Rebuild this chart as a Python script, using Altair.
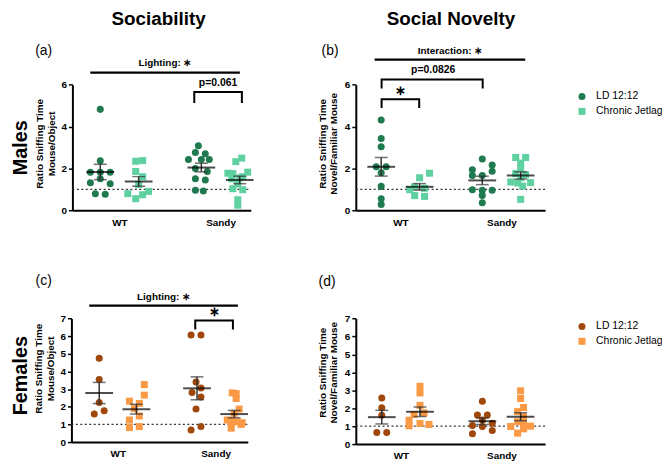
import altair as alt
import pandas as pd

# ------------------------------------------------------------------
# Data
# ------------------------------------------------------------------
genotypes = ["WT", "Sandy"]
conditions = ["LD 12:12", "Chronic Jetlag"]

# (a) Males - Sociability
a_wt_ld = [4.82, 2.37, 1.82, 1.82, 1.82, 1.50, 1.31, 1.26, 0.79, 0.76]
a_wt_cj = [2.34, 2.37, 1.85, 1.60, 1.23, 0.79, 0.74, 0.90, 0.55]
a_sa_ld = [3.08, 2.76, 2.70, 2.42, 2.42, 2.42, 2.00, 1.85, 1.50, 1.45, 0.95, 0.92]
a_sa_cj = [2.49, 2.32, 1.82, 1.77, 1.75, 1.60, 1.55, 1.50, 1.26, 1.03, 0.98, 0.50, 0.24]
a_wt_ld_dx = [0, 0, -10, 10, 0, 0, -10, 10, -5, 5]
a_wt_cj_dx = [-3, 4, -3, 4, 0, -11, 4, 10, -3]
a_sa_ld_dx = [-3, -6, 4, -13, 0, 8, -6, 6, -6, 4, -6, 2]
a_sa_cj_dx = [2, -4, 8, -12, -7, 3, 0, -8, -2, -7, 3, -2, -2]

# (b) Males - Social novelty
b_wt_ld = [4.31, 3.43, 3.03, 2.08, 2.08, 1.79, 1.14, 0.55, 0.27]
b_wt_cj = [1.77, 1.55, 1.12, 1.05, 0.98, 0.70, 0.66]
b_sa_ld = [2.45, 2.16, 1.94, 1.86, 1.66, 1.66, 0.98, 0.95, 0.95, 0.71, 0.36]
b_sa_cj = [2.52, 2.52, 2.25, 2.00, 1.75, 1.70, 1.55, 1.35, 1.32, 1.30, 1.15, 0.52]
b_wt_ld_dx = [0, 0, 0, -5, 5, 0, 0, 0, 0]
b_wt_cj_dx = [10, 0, -5, 5, -10, -5, 5]
b_sa_ld_dx = [0, 10, -10, 10, -10, 0, -10, 0, 10, 0, 0]
b_sa_cj_dx = [-5, 5, 0, 0, -5, 5, 0, -10, 10, -3, 2, 0]

# (c) Females - Sociability
c_wt_ld = [4.75, 3.55, 2.24, 1.78, 1.59]
c_wt_cj = [3.26, 2.66, 2.32, 2.19, 1.90, 1.48, 1.25, 0.88, 0.82]
c_sa_ld = [6.07, 6.07, 3.40, 3.07, 2.81, 2.56, 1.87, 0.88, 0.69]
c_sa_cj = [2.79, 2.75, 2.47, 1.87, 1.63, 1.25, 1.20, 1.15, 1.10, 1.05, 1.00, 0.79]
c_wt_ld_dx = [0, 0, 0, 5, -5]
c_wt_cj_dx = [8, 8, -7, 3, -2, 3, -7, 3, -7]
c_sa_ld_dx = [-6, 4, -1, 4, -5, 4, -1, 4, -6]
c_sa_cj_dx = [-2, 2, 2, 5, 0, -7, -2, 3, 8, -3, 7, -3]

# (d) Females - Social novelty
d_wt_ld = [2.57, 2.03, 1.61, 0.65, 0.65]
d_wt_cj = [3.22, 2.85, 2.16, 1.74, 1.65, 1.33, 1.15, 1.09, 1.02]
d_sa_ld = [2.39, 1.62, 1.62, 1.34, 1.16, 1.03, 0.98, 0.76, 0.57]
d_sa_cj = [2.97, 2.54, 2.04, 1.81, 1.53, 1.25, 1.20, 1.00, 0.98, 0.85, 0.61]
d_wt_ld_dx = [0, 0, 0, -5, 5]
d_wt_cj_dx = [0, 0, 0, 4, -6, -11, 0, 9, -11]
d_sa_ld_dx = [0, -5, 5, 0, 10, -10, 0, 10, -10]
d_sa_cj_dx = [0, 0, 3, -3, 3, -3, 3, 10, -10, 3, -3]

# significance annotations (x in group units, y in data units)
ann_a_lines = [(0.711, 2.191, 6.58)]
ann_a_brackets = [(1.74, 2.211, 5.65, 5.13)]
ann_a_texts = [("Lighting: \u2217", 1.45, 7.03, 10), ("p=0.061", 1.975, 6.08, 10.5)]
ann_b_lines = [(0.745, 2.235, 7.20)]
ann_b_brackets = [(0.814, 1.814, 6.25, 5.82), (0.814, 1.186, 5.30, 4.88)]
ann_b_texts = [("Interaction: \u2217", 1.49, 7.60, 10), ("p=0.0826", 1.324, 6.68, 10.5),
               ("\u2217", 1.0, 5.72, 13)]
ann_c_lines = [(0.708, 2.228, 7.73)]
ann_c_brackets = [(1.792, 2.177, 6.89, 6.38)]
ann_c_texts = [("Lighting: \u2217", 1.468, 8.23, 10), ("\u2217", 1.985, 7.36, 13)]

# ------------------------------------------------------------------
# Layout / style
# ------------------------------------------------------------------
FONT = "Liberation Sans"
PAGE = 8
W, H = 660, 455
SIDE = 0.19
M_COLORS = ["#1f7a4f", "#5fd0a0"]
F_COLORS = ["#a0480c", "#fb9a45"]
ERR = "#333333"

PANELS = {
    "a": dict(ax0=73, ax1=253, cWT=120.5, cS=222.5, y0=210, ytop=83.3, ymax=6, ticks=[0, 2, 4, 6]),
    "b": dict(ax0=359, ax1=550, cWT=404, cS=506, y0=210, ytop=83.3, ymax=6, ticks=[0, 2, 4, 6]),
    "c": dict(ax0=72, ax1=250, cWT=118.8, cS=217.5, y0=444, ytop=319.3, ymax=7, ticks=list(range(8))),
    "d": dict(ax0=359, ax1=550, cWT=404.5, cS=506, y0=446, ytop=319.3, ymax=7, ticks=list(range(8))),
}


def geom(p):
    u = p["cS"] - p["cWT"]
    return u, 1 + (p["ax0"] - p["cWT"]) / u, 1 + (p["ax1"] - p["cWT"]) / u


def xs(p):
    u, d0, d1 = geom(p)
    return alt.Scale(domain=[d0, d1], range=[p["ax0"] - PAGE, p["ax1"] - PAGE], nice=False, zero=False)


def ys(p):
    return alt.Scale(domain=[0, p["ymax"]], range=[p["y0"] - PAGE, p["ytop"] - PAGE], nice=False, zero=False)


def xaxis(p):
    return alt.Axis(orient="bottom", offset=(p["y0"] - PAGE) - H, values=[1, 2],
                    labelExpr=f"datum.value == 1 ? '{genotypes[0]}' : '{genotypes[1]}'",
                    ticks=False, tickSize=0, grid=False, domainColor="black", domainWidth=2,
                    labelFont=FONT, labelFontSize=10, labelFontWeight="bold", labelColor="black",
                    labelPadding=7, labelAngle=0, labelFlush=False, labelOverlap=False, title=None)


def yaxis(p):
    return alt.Axis(orient="left", offset=-(p["ax0"] - PAGE), values=p["ticks"], format="d", grid=False,
                    domainColor="black", domainWidth=2, tickColor="black", tickWidth=1.5, tickSize=4,
                    labelPadding=2, labelFont=FONT, labelFontSize=10, labelFontWeight="bold",
                    labelColor="black", labelFlush=False, labelOverlap=False, title=None)


def build_df(groups, p):
    u, _, _ = geom(p)
    rows = []
    for gi, g in enumerate(genotypes):
        for ci, c in enumerate(conditions):
            vals, dxs = groups[gi][ci]
            gx = gi + 1 + (-SIDE if ci == 0 else SIDE)
            for v, dx in zip(vals, dxs):
                rows.append(dict(genotype=g, condition=c, gx=gx, x=gx + dx / u, value=v))
    return pd.DataFrame(rows)


def panel_layers(key, groups, colors, legend_y, lines, brackets, texts):
    p = PANELS[key]
    u, d0, d1 = geom(p)
    df = build_df(groups, p)
    L = []
    # reference line at 1
    L.append(alt.Chart(pd.DataFrame({"x": [d0], "x2": [d1], "y": [1.0]}))
             .mark_rule(color="#333333", strokeDash=[2, 2.5], strokeWidth=1.3)
             .encode(x=alt.X("x:Q", scale=xs(p), axis=None), x2="x2:Q",
                     y=alt.Y("y:Q", scale=ys(p), axis=None)))
    # points
    if legend_y is not None:
        leg = alt.Legend(orient="none", legendX=574, legendY=legend_y, title=None, labelFont=FONT,
                         labelFontSize=10.5, labelColor="black", symbolSize=50, padding=0,
                         rowPadding=4, labelOffset=9, symbolStrokeWidth=0, symbolOpacity=1)
    else:
        leg = None
    L.append(alt.Chart(df).mark_point(filled=True, opacity=1, size=50, strokeWidth=0)
             .encode(x=alt.X("x:Q", scale=xs(p), axis=xaxis(p)),
                     y=alt.Y("value:Q", scale=ys(p), axis=yaxis(p)),
                     color=alt.Color("condition:N", scale=alt.Scale(domain=conditions, range=colors), legend=leg),
                     shape=alt.Shape("condition:N", scale=alt.Scale(domain=conditions, range=["circle", "square"]),
                                     legend=leg)))
    # mean +/- SEM
    base = (alt.Chart(df)
            .transform_aggregate(m="mean(value)", se="stderr(value)", groupby=["gx", "condition"])
            .transform_calculate(lo="datum.m - datum.se", hi="datum.m + datum.se"))
    X = alt.X("gx:Q", scale=xs(p), axis=None)
    L.append(base.mark_rule(color=ERR, strokeWidth=1.5)
             .encode(x=X, y=alt.Y("lo:Q", scale=ys(p), axis=None), y2="hi:Q"))
    for fld in ["lo", "hi"]:
        L.append(base.mark_tick(orient="horizontal", size=13, thickness=1.5, color=ERR)
                 .encode(x=X, y=alt.Y(f"{fld}:Q", scale=ys(p), axis=None)))
    L.append(base.mark_tick(orient="horizontal", size=28, thickness=2, color="black")
             .encode(x=X, y=alt.Y("m:Q", scale=ys(p), axis=None)))
    # significance lines
    if lines:
        ldf = pd.DataFrame(lines, columns=["x", "x2", "y"])
        L.append(alt.Chart(ldf).mark_rule(color="black", strokeWidth=2.2)
                 .encode(x=alt.X("x:Q", scale=xs(p), axis=None), x2="x2:Q",
                         y=alt.Y("y:Q", scale=ys(p), axis=None)))
    if brackets:
        rows = []
        for bi, (x1, x2, yt, yb) in enumerate(brackets):
            for oi, (xx, yy) in enumerate([(x1, yb), (x1, yt), (x2, yt), (x2, yb)]):
                rows.append(dict(b=bi, o=oi, x=xx, y=yy))
        L.append(alt.Chart(pd.DataFrame(rows)).mark_line(color="black", strokeWidth=2, strokeJoin="miter")
                 .encode(x=alt.X("x:Q", scale=xs(p), axis=None), y=alt.Y("y:Q", scale=ys(p), axis=None),
                         detail="b:N", order="o:Q"))
    for (t, tx, ty, fs) in texts:
        L.append(alt.Chart(pd.DataFrame({"t": [t], "x": [tx], "y": [ty]}))
                 .mark_text(font=FONT, fontSize=fs, fontWeight="bold", color="black", baseline="middle")
                 .encode(x=alt.X("x:Q", scale=xs(p), axis=None), y=alt.Y("y:Q", scale=ys(p), axis=None),
                         text="t:N"))
    return L


def label(text, x, y, size, weight="normal", angle=0):
    return (alt.Chart(pd.DataFrame({"t": [text]}))
            .mark_text(font=FONT, fontSize=size, fontWeight=weight, angle=angle, color="black",
                       align="center", baseline="middle")
            .encode(x=alt.value(x - PAGE), y=alt.value(y - PAGE), text="t:N"))


layers = []
layers += panel_layers("a", [[(a_wt_ld, a_wt_ld_dx), (a_wt_cj, a_wt_cj_dx)],
                             [(a_sa_ld, a_sa_ld_dx), (a_sa_cj, a_sa_cj_dx)]],
                       M_COLORS, None, ann_a_lines, ann_a_brackets, ann_a_texts)
layers += panel_layers("b", [[(b_wt_ld, b_wt_ld_dx), (b_wt_cj, b_wt_cj_dx)],
                             [(b_sa_ld, b_sa_ld_dx), (b_sa_cj, b_sa_cj_dx)]],
                       M_COLORS, 82, ann_b_lines, ann_b_brackets, ann_b_texts)
layers += panel_layers("c", [[(c_wt_ld, c_wt_ld_dx), (c_wt_cj, c_wt_cj_dx)],
                             [(c_sa_ld, c_sa_ld_dx), (c_sa_cj, c_sa_cj_dx)]],
                       F_COLORS, None, ann_c_lines, ann_c_brackets, ann_c_texts)
layers += panel_layers("d", [[(d_wt_ld, d_wt_ld_dx), (d_wt_cj, d_wt_cj_dx)],
                             [(d_sa_ld, d_sa_ld_dx), (d_sa_cj, d_sa_cj_dx)]],
                       F_COLORS, 314, [], [], [])

# titles, row labels, panel letters, axis titles
layers += [
    label("Sociability", 160, 17, 19, "bold"),
    label("Social Novelty", 455, 17, 19, "bold"),
    label("Males", 21, 147, 20, "bold", 270),
    label("Females", 21, 377, 20, "bold", 270),
    label("(a)", 44, 49, 14),
    label("(b)", 333, 49, 14),
    label("(c)", 44, 281, 14),
    label("(d)", 330, 282, 14),
    label("Ratio Sniffing Time", 40, 143, 10, "bold", 270),
    label("Mouse/Object", 52, 143, 10, "bold", 270),
    label("Ratio Sniffing Time", 326, 143, 10, "bold", 270),
    label("Novel/Familiar Mouse", 337, 143, 10, "bold", 270),
    label("Ratio Sniffing Time", 39, 370, 10, "bold", 270),
    label("Mouse/Object", 51, 370, 10, "bold", 270),
    label("Ratio Sniffing Time", 326, 374, 10, "bold", 270),
    label("Novel/Familiar Mouse", 337, 374, 10, "bold", 270),
]

chart = (alt.layer(*layers)
         .resolve_scale(x="independent", y="independent", color="independent", shape="independent")
         .properties(width=W, height=H, autosize=alt.AutoSizeParams(type="none"), padding=0,
                     background="white")
         .configure_view(stroke=None))

chart.save("out.html", embed_options={"renderer": "svg", "actions": False})
